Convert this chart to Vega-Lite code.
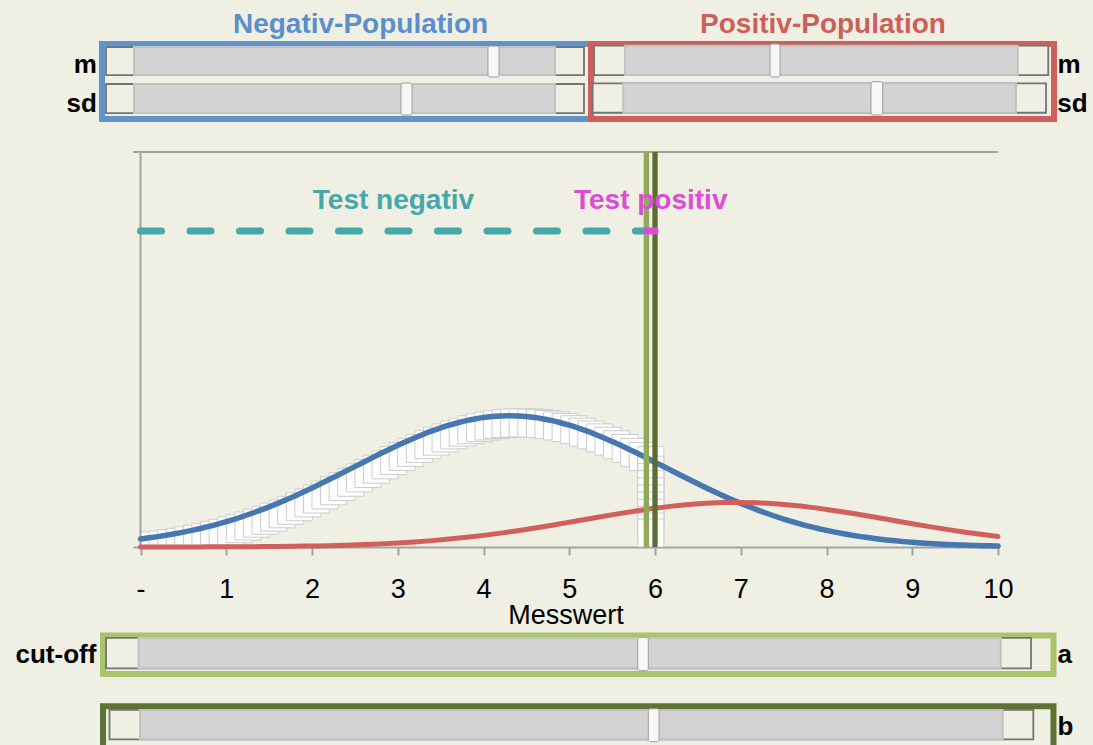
{
  "$schema": "https://vega.github.io/schema/vega-lite/v6.json",
  "width": 865,
  "height": 395,
  "autosize": {"type": "none"},
  "padding": {"left": 133, "top": 152, "right": 95, "bottom": 198},
  "background": "#efefe3",
  "config": {"view": {"stroke": null}, "font": "Liberation Sans"},
  "datasets": {
    "boxes": [
      {"box": "Negativ", "x1": -0.449, "x2": 5.254, "y1": 0.7151, "y2": 0.8404},
      {"box": "Positiv", "x1": 5.254, "x2": 10.653, "y1": 0.7151, "y2": 0.8404},
      {"box": "a", "x1": -0.437, "x2": 10.647, "y1": -0.2122, "y2": -0.1479},
      {"box": "b", "x1": -0.437, "x2": 10.647, "y1": -0.34, "y2": -0.2662}
    ],
    "sliders": [
      {"slider": "neg_m", "x1": -0.402, "x2": 5.172, "t1": -0.0758, "t2": 4.834, "y1": 0.7886, "y2": 0.8354, "k1": 4.052, "k2": 4.181, "ky1": 0.7853, "ky2": 0.8371},
      {"slider": "neg_sd", "x1": -0.402, "x2": 5.172, "t1": -0.0758, "t2": 4.834, "y1": 0.7251, "y2": 0.7736, "k1": 3.038, "k2": 3.166, "ky1": 0.7218, "ky2": 0.7753},
      {"slider": "pos_m", "x1": 5.289, "x2": 10.586, "t1": 5.65, "t2": 10.23, "y1": 0.7886, "y2": 0.8376, "k1": 7.341, "k2": 7.458, "ky1": 0.7853, "ky2": 0.8404},
      {"slider": "pos_sd", "x1": 5.273, "x2": 10.56, "t1": 5.63, "t2": 10.21, "y1": 0.7256, "y2": 0.7748, "k1": 8.519, "k2": 8.655, "ky1": 0.7218, "ky2": 0.7774},
      {"slider": "a", "x1": -0.402, "x2": 10.385, "t1": -0.0233, "t2": 10.031, "y1": -0.2027, "y2": -0.152, "k1": 5.798, "k2": 5.922, "ky1": -0.2067, "ky2": -0.1509},
      {"slider": "b", "x1": -0.3615, "x2": 10.412, "t1": -0.0058, "t2": 10.055, "y1": -0.3213, "y2": -0.2723, "k1": 5.922, "k2": 6.047, "ky1": -0.3253, "ky2": -0.2702}
    ],
    "labels": [
      {"text": "m", "side": "left", "x": -0.51, "y": 0.792},
      {"text": "sd", "side": "left", "x": -0.51, "y": 0.7273},
      {"text": "cut-off", "side": "left", "x": -0.515, "y": -0.1943},
      {"text": "m", "side": "right", "x": 10.695, "y": 0.792},
      {"text": "sd", "side": "right", "x": 10.69, "y": 0.7273},
      {"text": "a", "side": "right", "x": 10.695, "y": -0.1943},
      {"text": "b", "side": "right", "x": 10.695, "y": -0.3141}
    ],
    "titles": [
      {"text": "Negativ-Population", "group": "Negativ", "x": 2.566, "y": 0.8583},
      {"text": "Positiv-Population", "group": "Positiv", "x": 7.959, "y": 0.8583}
    ],
    "tests": [
      {"text": "Test negativ", "group": "Test negativ", "x": 2.95, "y": 0.5643},
      {"text": "Test positiv", "group": "Test positiv", "x": 5.95, "y": 0.5643}
    ],
    "cutoff": [{"start": 0, "a": 5.9, "b": 6.0, "level": 0.528}],
    "frame": [{"x1": -0.0875, "x2": 10, "y": 0.66, "origin": 0}],
    "drop": [
      {"Messwert": 5.8, "Dichte": 0.14},
      {"Messwert": 5.8, "Dichte": 0.128},
      {"Messwert": 5.8, "Dichte": 0.116},
      {"Messwert": 5.8, "Dichte": 0.104},
      {"Messwert": 5.8, "Dichte": 0.092},
      {"Messwert": 5.8, "Dichte": 0.08},
      {"Messwert": 5.8, "Dichte": 0.068},
      {"Messwert": 5.8, "Dichte": 0.056},
      {"Messwert": 5.8, "Dichte": 0.045},
      {"Messwert": 5.8, "Dichte": 0.035}
    ],
    "neg": [
      {"Messwert": 0, "Dichte": 0.01345}, {"Messwert": 0.1, "Dichte": 0.0153}, {"Messwert": 0.2, "Dichte": 0.01734}, {"Messwert": 0.3, "Dichte": 0.01958}, {"Messwert": 0.4, "Dichte": 0.02207},
      {"Messwert": 0.5, "Dichte": 0.02479}, {"Messwert": 0.6, "Dichte": 0.02776}, {"Messwert": 0.7, "Dichte": 0.03099}, {"Messwert": 0.8, "Dichte": 0.0345}, {"Messwert": 0.9, "Dichte": 0.03829},
      {"Messwert": 1, "Dichte": 0.04237}, {"Messwert": 1.1, "Dichte": 0.04673}, {"Messwert": 1.2, "Dichte": 0.05139}, {"Messwert": 1.3, "Dichte": 0.05635}, {"Messwert": 1.4, "Dichte": 0.06159},
      {"Messwert": 1.5, "Dichte": 0.06713}, {"Messwert": 1.6, "Dichte": 0.07294}, {"Messwert": 1.7, "Dichte": 0.07901}, {"Messwert": 1.8, "Dichte": 0.08534}, {"Messwert": 1.9, "Dichte": 0.09188},
      {"Messwert": 2, "Dichte": 0.09864}, {"Messwert": 2.1, "Dichte": 0.10557}, {"Messwert": 2.2, "Dichte": 0.11265}, {"Messwert": 2.3, "Dichte": 0.11985}, {"Messwert": 2.4, "Dichte": 0.12712},
      {"Messwert": 2.5, "Dichte": 0.13441}, {"Messwert": 2.6, "Dichte": 0.14171}, {"Messwert": 2.7, "Dichte": 0.14895}, {"Messwert": 2.8, "Dichte": 0.15609}, {"Messwert": 2.9, "Dichte": 0.16306},
      {"Messwert": 3, "Dichte": 0.16985}, {"Messwert": 3.1, "Dichte": 0.17637}, {"Messwert": 3.2, "Dichte": 0.18262}, {"Messwert": 3.3, "Dichte": 0.18849}, {"Messwert": 3.4, "Dichte": 0.19397},
      {"Messwert": 3.5, "Dichte": 0.19901}, {"Messwert": 3.6, "Dichte": 0.20357}, {"Messwert": 3.7, "Dichte": 0.20761}, {"Messwert": 3.8, "Dichte": 0.21108}, {"Messwert": 3.9, "Dichte": 0.21397},
      {"Messwert": 4, "Dichte": 0.21624}, {"Messwert": 4.1, "Dichte": 0.21788}, {"Messwert": 4.2, "Dichte": 0.21887}, {"Messwert": 4.3, "Dichte": 0.2192}, {"Messwert": 4.4, "Dichte": 0.21887},
      {"Messwert": 4.5, "Dichte": 0.21788}, {"Messwert": 4.6, "Dichte": 0.21624}, {"Messwert": 4.7, "Dichte": 0.21397}, {"Messwert": 4.8, "Dichte": 0.21108}, {"Messwert": 4.9, "Dichte": 0.20761},
      {"Messwert": 5, "Dichte": 0.20357}, {"Messwert": 5.1, "Dichte": 0.19901}, {"Messwert": 5.2, "Dichte": 0.19397}, {"Messwert": 5.3, "Dichte": 0.18849}, {"Messwert": 5.4, "Dichte": 0.18262},
      {"Messwert": 5.5, "Dichte": 0.17637}, {"Messwert": 5.6, "Dichte": 0.16985}, {"Messwert": 5.7, "Dichte": 0.16306}, {"Messwert": 5.8, "Dichte": 0.15609}, {"Messwert": 5.9, "Dichte": 0.14895},
      {"Messwert": 6, "Dichte": 0.14171}, {"Messwert": 6.1, "Dichte": 0.13441}, {"Messwert": 6.2, "Dichte": 0.12712}, {"Messwert": 6.3, "Dichte": 0.11985}, {"Messwert": 6.4, "Dichte": 0.11265},
      {"Messwert": 6.5, "Dichte": 0.10557}, {"Messwert": 6.6, "Dichte": 0.09864}, {"Messwert": 6.7, "Dichte": 0.09188}, {"Messwert": 6.8, "Dichte": 0.08534}, {"Messwert": 6.9, "Dichte": 0.07901},
      {"Messwert": 7, "Dichte": 0.07294}, {"Messwert": 7.1, "Dichte": 0.06713}, {"Messwert": 7.2, "Dichte": 0.06159}, {"Messwert": 7.3, "Dichte": 0.05635}, {"Messwert": 7.4, "Dichte": 0.05139},
      {"Messwert": 7.5, "Dichte": 0.04673}, {"Messwert": 7.6, "Dichte": 0.04237}, {"Messwert": 7.7, "Dichte": 0.03829}, {"Messwert": 7.8, "Dichte": 0.0345}, {"Messwert": 7.9, "Dichte": 0.03099},
      {"Messwert": 8, "Dichte": 0.02776}, {"Messwert": 8.1, "Dichte": 0.02479}, {"Messwert": 8.2, "Dichte": 0.02207}, {"Messwert": 8.3, "Dichte": 0.01958}, {"Messwert": 8.4, "Dichte": 0.01734},
      {"Messwert": 8.5, "Dichte": 0.0153}, {"Messwert": 8.6, "Dichte": 0.01345}, {"Messwert": 8.7, "Dichte": 0.01179}, {"Messwert": 8.8, "Dichte": 0.01031}, {"Messwert": 8.9, "Dichte": 0.00899},
      {"Messwert": 9, "Dichte": 0.00781}, {"Messwert": 9.1, "Dichte": 0.00677}, {"Messwert": 9.2, "Dichte": 0.00585}, {"Messwert": 9.3, "Dichte": 0.00504}, {"Messwert": 9.4, "Dichte": 0.00432},
      {"Messwert": 9.5, "Dichte": 0.0037}, {"Messwert": 9.6, "Dichte": 0.00316}, {"Messwert": 9.7, "Dichte": 0.00269}, {"Messwert": 9.8, "Dichte": 0.00228}, {"Messwert": 9.9, "Dichte": 0.00193},
      {"Messwert": 10, "Dichte": 0.00163}
    ],
    "pos": [
      {"Messwert": 0, "Dichte": 0.00004}, {"Messwert": 0.2, "Dichte": 0.00007}, {"Messwert": 0.4, "Dichte": 0.0001}, {"Messwert": 0.6, "Dichte": 0.00015}, {"Messwert": 0.8, "Dichte": 0.00022},
      {"Messwert": 1, "Dichte": 0.00032}, {"Messwert": 1.2, "Dichte": 0.00045}, {"Messwert": 1.4, "Dichte": 0.00064}, {"Messwert": 1.6, "Dichte": 0.0009}, {"Messwert": 1.8, "Dichte": 0.00124},
      {"Messwert": 2, "Dichte": 0.0017}, {"Messwert": 2.2, "Dichte": 0.00229}, {"Messwert": 2.4, "Dichte": 0.00305}, {"Messwert": 2.6, "Dichte": 0.00402}, {"Messwert": 2.8, "Dichte": 0.00522},
      {"Messwert": 3, "Dichte": 0.00671}, {"Messwert": 3.2, "Dichte": 0.0085}, {"Messwert": 3.4, "Dichte": 0.01065}, {"Messwert": 3.6, "Dichte": 0.01318}, {"Messwert": 3.8, "Dichte": 0.01611},
      {"Messwert": 4, "Dichte": 0.01944}, {"Messwert": 4.2, "Dichte": 0.02318}, {"Messwert": 4.4, "Dichte": 0.0273}, {"Messwert": 4.6, "Dichte": 0.03176}, {"Messwert": 4.8, "Dichte": 0.03649},
      {"Messwert": 5, "Dichte": 0.04142}, {"Messwert": 5.2, "Dichte": 0.04642}, {"Messwert": 5.4, "Dichte": 0.0514}, {"Messwert": 5.6, "Dichte": 0.05621}, {"Messwert": 5.8, "Dichte": 0.06072},
      {"Messwert": 6, "Dichte": 0.06479}, {"Messwert": 6.2, "Dichte": 0.06828}, {"Messwert": 6.4, "Dichte": 0.07107}, {"Messwert": 6.6, "Dichte": 0.07308}, {"Messwert": 6.8, "Dichte": 0.07421},
      {"Messwert": 7, "Dichte": 0.07444}, {"Messwert": 7.2, "Dichte": 0.07376}, {"Messwert": 7.4, "Dichte": 0.07218}, {"Messwert": 7.6, "Dichte": 0.06977}, {"Messwert": 7.8, "Dichte": 0.06661},
      {"Messwert": 8, "Dichte": 0.06282}, {"Messwert": 8.2, "Dichte": 0.05851}, {"Messwert": 8.4, "Dichte": 0.05384}, {"Messwert": 8.6, "Dichte": 0.04893}, {"Messwert": 8.8, "Dichte": 0.04392},
      {"Messwert": 9, "Dichte": 0.03893}, {"Messwert": 9.2, "Dichte": 0.0341}, {"Messwert": 9.4, "Dichte": 0.02949}, {"Messwert": 9.6, "Dichte": 0.0252}, {"Messwert": 9.8, "Dichte": 0.02126},
      {"Messwert": 10, "Dichte": 0.01772}
    ]
  },
  "layer": [
    {
      "data": {"name": "boxes"},
      "mark": {"type": "rect", "fill": "transparent", "strokeWidth": 6},
      "encoding": {
        "x": {
          "field": "x1", "type": "quantitative",
          "scale": {"domain": [-0.0875, 10], "nice": false, "zero": false},
          "axis": {
            "values": [0, 1, 2, 3, 4, 5, 6, 7, 8, 9, 10],
            "format": "d",
            "labelExpr": "datum.value === 0 ? '-' : datum.label",
            "title": "Messwert", "grid": false,
            "domainColor": "#a3a3a3", "domainWidth": 2,
            "tickColor": "#a3a3a3", "tickWidth": 2, "tickSize": 8,
            "labelFont": "Liberation Sans", "labelFontSize": 27, "labelColor": "#000000", "labelPadding": 21,
            "labelFlush": false, "labelOverlap": false,
            "titleFont": "Liberation Sans", "titleFontSize": 27, "titleFontWeight": "normal", "titleColor": "#000000",
            "titleBaseline": "alphabetic", "titleY": 76
          }
        },
        "x2": {"field": "x2"},
        "y": {"field": "y1", "type": "quantitative", "scale": {"domain": [0, 0.66], "nice": false, "zero": false}, "axis": null},
        "y2": {"field": "y2"},
        "stroke": {"field": "box", "type": "nominal", "scale": {"domain": ["Negativ", "Positiv", "a", "b"], "range": ["#6192cb", "#cd605b", "#a9c46b", "#5f7236"]}, "legend": null}
      }
    },
    {
      "data": {"name": "sliders"},
      "mark": {"type": "rect", "fill": "#efefe3", "stroke": "#747474", "strokeWidth": 1.8},
      "encoding": {
        "x": {"field": "x1", "type": "quantitative"},
        "x2": {"field": "x2"},
        "y": {"field": "y1", "type": "quantitative", "axis": null},
        "y2": {"field": "y2"}
      }
    },
    {
      "data": {"name": "sliders"},
      "mark": {"type": "rect", "fill": "#d3d3d3", "stroke": "#c2c2c2", "strokeWidth": 2},
      "encoding": {
        "x": {"field": "t1", "type": "quantitative"},
        "x2": {"field": "t2"},
        "y": {"field": "y1", "type": "quantitative", "axis": null},
        "y2": {"field": "y2"}
      }
    },
    {
      "data": {"name": "sliders"},
      "mark": {"type": "rect", "fill": "#f7f7f7", "stroke": "#9c9c9c", "strokeWidth": 1, "cornerRadius": 2},
      "encoding": {
        "x": {"field": "k1", "type": "quantitative"},
        "x2": {"field": "k2"},
        "y": {"field": "ky1", "type": "quantitative", "axis": null},
        "y2": {"field": "ky2"}
      }
    },
    {
      "data": {"name": "labels"},
      "transform": [{"filter": "datum.side === 'left'"}],
      "mark": {"type": "text", "align": "right", "baseline": "alphabetic", "fontSize": 26, "fontWeight": "bold", "color": "#000000"},
      "encoding": {
        "x": {"field": "x", "type": "quantitative"},
        "y": {"field": "y", "type": "quantitative", "axis": null},
        "text": {"field": "text"}
      }
    },
    {
      "data": {"name": "labels"},
      "transform": [{"filter": "datum.side === 'right'"}],
      "mark": {"type": "text", "align": "left", "baseline": "alphabetic", "fontSize": 26, "fontWeight": "bold", "color": "#000000"},
      "encoding": {
        "x": {"field": "x", "type": "quantitative"},
        "y": {"field": "y", "type": "quantitative", "axis": null},
        "text": {"field": "text"}
      }
    },
    {
      "data": {"name": "titles"},
      "mark": {"type": "text", "align": "center", "baseline": "alphabetic", "fontSize": 28, "fontWeight": "bold"},
      "encoding": {
        "x": {"field": "x", "type": "quantitative"},
        "y": {"field": "y", "type": "quantitative", "axis": null},
        "text": {"field": "text"},
        "color": {"field": "group", "type": "nominal", "scale": {"domain": ["Negativ", "Positiv", "Test negativ", "Test positiv"], "range": ["#5b8fcc", "#cd5f5b", "#45a8a9", "#db4dd3"]}, "legend": null}
      }
    },
    {
      "data": {"name": "neg"},
      "transform": [{"filter": "datum.Messwert <= 5.8"}],
      "mark": {"type": "point", "clip": true, "shape": "M0,-0.7H2.6V2.1H0Z", "size": 400, "filled": true, "fill": "#fdfdfd", "stroke": "#cdcdcd", "strokeWidth": 1, "opacity": 1},
      "encoding": {
        "x": {"field": "Messwert", "type": "quantitative"},
        "y": {"field": "Dichte", "type": "quantitative", "axis": null}
      }
    },
    {
      "data": {"name": "drop"},
      "mark": {"type": "point", "clip": true, "shape": "M0,-0.7H2.6V2.1H0Z", "size": 400, "filled": true, "fill": "#fdfdfd", "stroke": "#cdcdcd", "strokeWidth": 1, "opacity": 1},
      "encoding": {
        "x": {"field": "Messwert", "type": "quantitative"},
        "y": {"field": "Dichte", "type": "quantitative", "axis": null}
      }
    },
    {
      "data": {"name": "frame"},
      "mark": {"type": "rule", "color": "#a3a3a3", "strokeWidth": 2},
      "encoding": {
        "x": {"field": "x1", "type": "quantitative"},
        "x2": {"field": "x2"},
        "y": {"field": "y", "type": "quantitative", "axis": null}
      }
    },
    {
      "data": {"name": "frame"},
      "mark": {"type": "rule", "color": "#a3a3a3", "strokeWidth": 2},
      "encoding": {
        "x": {"field": "origin", "type": "quantitative"}
      }
    },
    {
      "data": {"name": "neg"},
      "mark": {"type": "line", "interpolate": "monotone", "color": "#4777b1", "strokeWidth": 5.5, "strokeCap": "round"},
      "encoding": {
        "x": {"field": "Messwert", "type": "quantitative"},
        "y": {"field": "Dichte", "type": "quantitative", "axis": null}
      }
    },
    {
      "data": {"name": "pos"},
      "mark": {"type": "line", "interpolate": "monotone", "color": "#d0605c", "strokeWidth": 5, "strokeCap": "round"},
      "encoding": {
        "x": {"field": "Messwert", "type": "quantitative"},
        "y": {"field": "Dichte", "type": "quantitative", "axis": null}
      }
    },
    {
      "data": {"name": "cutoff"},
      "mark": {"type": "rule", "color": "#93a95a", "strokeWidth": 5.5},
      "encoding": {
        "x": {"field": "a", "type": "quantitative"}
      }
    },
    {
      "data": {"name": "cutoff"},
      "mark": {"type": "rule", "color": "#5b6d31", "strokeWidth": 5.3},
      "encoding": {
        "x": {"field": "b", "type": "quantitative"}
      }
    },
    {
      "data": {"name": "cutoff"},
      "mark": {"type": "rule", "color": "#45a8a9", "strokeWidth": 7, "strokeCap": "round", "strokeDash": [21, 28.5]},
      "encoding": {
        "x": {"field": "start", "type": "quantitative"},
        "x2": {"field": "a"},
        "y": {"field": "level", "type": "quantitative", "axis": null}
      }
    },
    {
      "data": {"name": "cutoff"},
      "mark": {"type": "rule", "color": "#db4dd3", "strokeWidth": 7, "strokeCap": "round"},
      "encoding": {
        "x": {"field": "a", "type": "quantitative"},
        "x2": {"field": "b"},
        "y": {"field": "level", "type": "quantitative", "axis": null}
      }
    },
    {
      "data": {"name": "tests"},
      "mark": {"type": "text", "align": "center", "baseline": "alphabetic", "fontSize": 28, "fontWeight": "bold"},
      "encoding": {
        "x": {"field": "x", "type": "quantitative"},
        "y": {"field": "y", "type": "quantitative", "axis": null},
        "text": {"field": "text"},
        "color": {"field": "group", "type": "nominal", "scale": {"domain": ["Negativ", "Positiv", "Test negativ", "Test positiv"], "range": ["#5b8fcc", "#cd5f5b", "#45a8a9", "#db4dd3"]}, "legend": null}
      }
    }
  ]
}
